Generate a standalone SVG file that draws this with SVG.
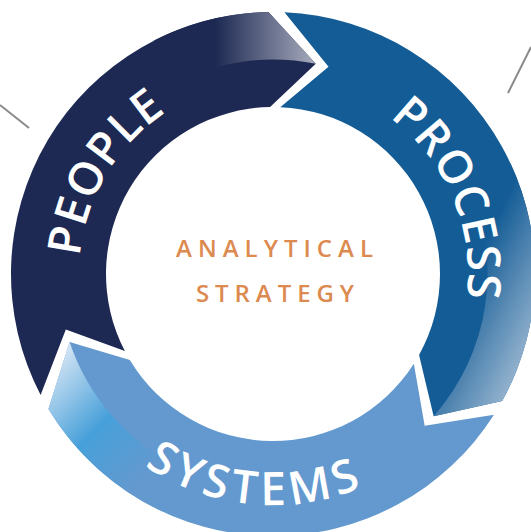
<svg xmlns="http://www.w3.org/2000/svg" width="531" height="532" viewBox="0 0 531 532">
<style>
.lbl{font-family:"Open Sans","Lato","Liberation Sans",sans-serif;font-weight:600;font-size:46px;fill:#ffffff;}
.ctr{font-family:"Open Sans","Lato","Liberation Sans",sans-serif;font-weight:600;font-size:24px;fill:#dc8a4f;}
.conn{stroke:#8a8a8a;stroke-width:2;fill:none;}
</style>
<defs>
<linearGradient id="gPeople" gradientUnits="userSpaceOnUse" x1="215" y1="0" x2="313" y2="0">
<stop offset="0" stop-color="#1d2952"/>
<stop offset="1" stop-color="#a4a8ba"/>
</linearGradient>
<linearGradient id="gProcess" gradientUnits="userSpaceOnUse" x1="440" y1="330" x2="520" y2="370">
<stop offset="0" stop-color="#145c96"/>
<stop offset="1" stop-color="#94b3ce"/>
</linearGradient>
<linearGradient id="gSystems" gradientUnits="userSpaceOnUse" x1="45" y1="365" x2="150" y2="470">
<stop offset="0" stop-color="#d8e6f4"/>
<stop offset="0.55" stop-color="#47a0da"/>
<stop offset="1" stop-color="#6399cf"/>
</linearGradient>
<path id="pPeople" d="M 90.70 340.35 A 194 194 0 0 1 246.00 81.89"/>
<path id="pProcess" d="M 326.75 86.55 A 195 195 0 0 1 445.18 365.55"/>
<path id="pSystems" d="M 83.78 406.50 A 231 231 0 0 0 436.34 437.34"/>
</defs>
<rect width="531" height="532" fill="#ffffff"/>
<g id="connectors">
<line class="conn" x1="0" y1="105" x2="29" y2="128"/>
<line class="conn" x1="508" y1="93" x2="531" y2="47"/>
</g>
<g id="node-people">
<path fill="#1d2952" d="M 40.60 394.98 A 262 262 0 0 1 268.43 12.04 L 315.77 63.81 L 270.09 107.03 A 167 167 0 0 0 124.87 351.11 L 65.81 329.52 Z"/>
<path fill="url(#gPeople)" d="M 154.05 40.56 A 262 262 0 0 1 268.43 12.04 L 315.77 63.81 A 214.5 214.5 0 0 0 175.62 82.88 Z"/>
<text class="lbl" letter-spacing="1"><textPath href="#pPeople" startOffset="50%" text-anchor="middle">PEOPLE</textPath></text>
</g>
<g id="node-process">
<path fill="#145c96" d="M 284.43 12.25 A 262 262 0 0 1 502.15 401.02 L 433.65 416.13 L 419.06 354.96 A 167 167 0 0 0 280.28 107.16 L 328.52 66.81 Z"/>
<path fill="url(#gProcess)" d="M 510.45 163.27 A 262 262 0 0 1 502.15 401.02 L 433.65 416.13 A 214.5 214.5 0 0 0 467.40 183.35 Z"/>
<text class="lbl" letter-spacing="1"><textPath href="#pProcess" startOffset="50%" text-anchor="middle">PROCESS</textPath></text>
</g>
<g id="node-systems">
<path fill="#6399cf" d="M 493.97 414.77 A 262 262 0 0 1 48.42 408.94 L 69.59 342.06 L 129.85 360.01 A 167 167 0 0 0 413.85 363.73 L 424.67 425.67 Z"/>
<path fill="url(#gSystems)" d="M 162.27 511.45 A 262 262 0 0 1 48.42 408.94 L 69.59 342.06 A 214.5 214.5 0 0 0 182.35 468.40 Z"/>
<text class="lbl" letter-spacing="5"><textPath href="#pSystems" startOffset="50%" text-anchor="middle">SYSTEMS</textPath></text>
</g>
<g id="node-center">
<text class="ctr" x="176" y="257" textLength="197" lengthAdjust="spacing">ANALYTICAL</text>
<text class="ctr" x="196" y="302" textLength="158" lengthAdjust="spacing">STRATEGY</text>
</g>
</svg>
